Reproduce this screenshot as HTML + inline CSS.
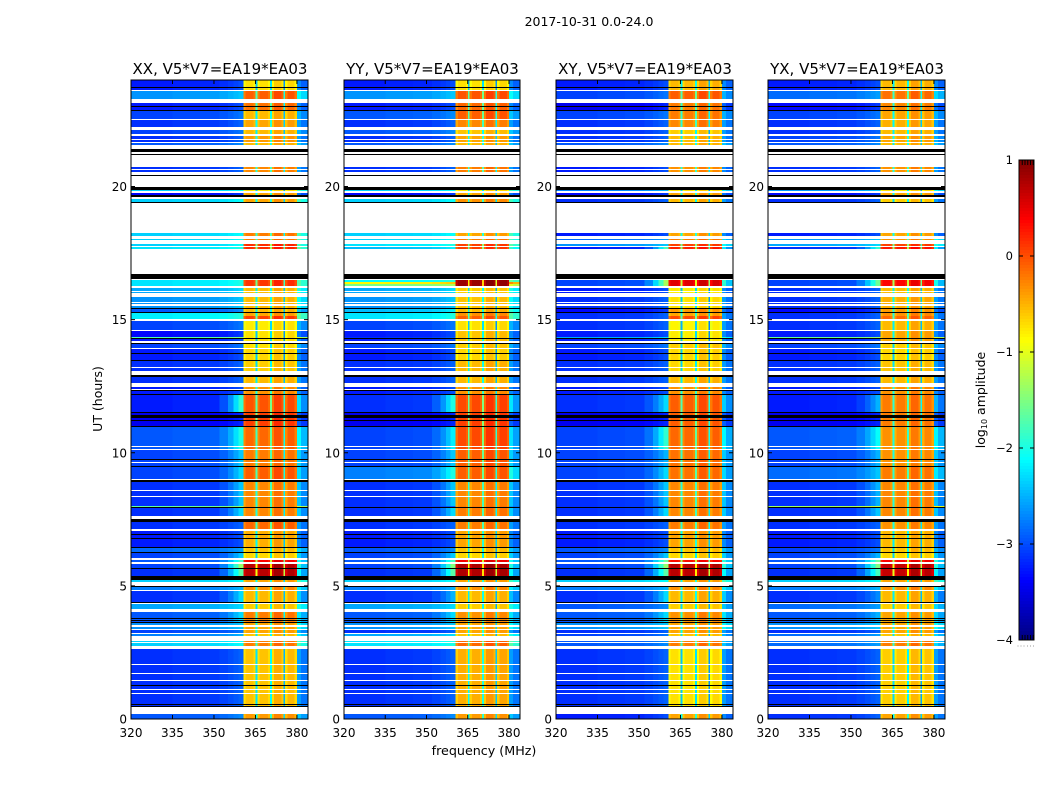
<!DOCTYPE html>
<html lang="en">
<head>
<meta charset="utf-8">
<title>2017-10-31 0.0-24.0</title>
<style>
html,body{margin:0;padding:0;background:#fff;}
svg{display:block;}
text{font-family:"DejaVu Sans","Liberation Sans",sans-serif;fill:#000;}
</style>
</head>
<body>
<svg id="figure" xmlns="http://www.w3.org/2000/svg" width="1050" height="800" viewBox="0 0 1050 800">
<rect x="0" y="0" width="1050" height="800" fill="#fff"/>
<text x="589" y="26" font-size="12.5" text-anchor="middle">2017-10-31 0.0-24.0</text>
<text x="484" y="755" font-size="12.7" text-anchor="middle">frequency (MHz)</text>
<text x="0" y="0" font-size="12.5" text-anchor="middle" transform="translate(102 399) rotate(-90)">UT (hours)</text>
<text x="0" y="0" font-size="12.5" text-anchor="middle" transform="translate(985 400) rotate(-90)">log<tspan font-size="8" dy="2">10</tspan><tspan dy="-2"> amplitude</tspan></text>
</svg>
<script>
const _ = null;

/* ---- axes ---- */
const freqTicks = [320, 335, 350, 365, 380];
const hourTicks = [0, 5, 10, 15, 20];
const colorbarTicks = [1, 0, -1, -2, -3, -4];
const panelTitles = ["XX, V5*V7=EA19*EA03", "YY, V5*V7=EA19*EA03", "XY, V5*V7=EA19*EA03", "YX, V5*V7=EA19*EA03"];

/* ---- frequency channels (MHz) and their response ---- */
const freqEdges = [320,335,345,352,355,357,358.8,360.6,361.4,364.3,365.1,365.7,366.5,369.5,370.25,370.9,371.7,374.4,375.1,375.7,376.5,379.2,380,381.5,384];
const bandGain  = [_,_,_,_,_,_,_,-0.2,-0.03,-0.15,-1.7,-0.2,-0.03,-0.15,-1.55,-0.18,0.08,-0.08,-1.95,-0.18,0.02,-0.15,_,_];
const backGain  = [-0.15,-0.12,-0.1,-0.05,0,0.05,0.1,_,_,_,_,_,_,_,_,_,_,_,_,_,_,_,0.4,0.2];
const skirtWeight = [0,0,0,0.15,0.4,0.7,1,_,_,_,_,_,_,_,_,_,_,_,_,_,_,_,0.4,0.2];

/* ---- time blocks: upper edge in 2.25-minute time bins, descending ---- */
const blockTopBin = [
639,628,616,608,599,589,583,576,552,532,
529,526,520,486,480,475,472,439,437,435,
431,422,410,406,403,398,388,382,381,375,
370,358,348,332,324,306,292,269,252,237,
213,212,197,188,171,166,159,155,150,139,
132,128,115,107,96,89,85,78,70,5];

/* ---- log10 amplitude outside the receiver band ---- */
const xxBackground = [
-3.1,-2.5,-3.1,-2.9,-3,-2.9,-3,-2.8,-3,-3.4,
-2.2,-3.2,-2.2,-2.2,-2.2,-2.2,-2.1,-2.1,-2.1,-2.1,
-2.4,-2.5,-2.8,-2.05,-2.05,-2.9,-3.2,-1.6,-3.1,-2.9,
-3.1,-3,-3,-3.1,-3.1,-3.3,-2.8,-2.9,-2.9,-3,
-1.5,-3,-3,-3.1,-2.7,-2.9,-2.8,-2.9,-3,-2.2,
-2.6,-3,-2.4,-2.8,-2.5,-2.9,-2.6,-2.2,-3,-2.8];
const yyBackground = [
-3.1,-2.5,-3.1,-2.8,-3,-2.8,-3,-2.8,-3,-3.4,
-2.2,-3.2,-2.2,-2.2,-2.2,-2.1,-2.3,-2,-0.7,-1.4,
-2.4,-2.5,-2.3,-2.1,-2.1,-2.9,-3.1,-3,-3.1,-2.9,
-3.1,-3,-3,-3.1,-3,-3.3,-2.9,-2.9,-2.6,-3,
-3,-3,-3,-3.1,-2.8,-2.9,-2.8,-2.9,-3,-2.2,
-2.6,-3,-2.4,-2.8,-2.5,-3,-2.4,-2.1,-3,-2.8];
const xyBackground = [
-3.1,-2.9,-3.3,-2.9,-3,-3,-3,-2.8,-3.1,-3.4,
-2.6,-3.2,-3,-3.1,-2.7,-2.5,-3.1,-2.9,-2.9,-2.9,
-3.1,-3,-3.2,-3,-3,-3,-3.1,-2.4,-3.1,-2.9,
-3.1,-3,-3,-3.1,-3,-3.3,-2.9,-2.9,-2.9,-3,
-3,-3,-3,-3.1,-2.8,-2.9,-2.8,-2.9,-3,-2.2,
-2.6,-3,-2.8,-2.8,-2.5,-3,-2.9,-2.8,-3,-3.1];
const yxBackground = [
-3.1,-2.7,-3.2,-2.9,-3,-3,-2.9,-2.8,-3,-3.4,
-2.5,-3.2,-3,-3.1,-2.5,-2.4,-3,-2.9,-2.9,-2.9,
-3,-3,-3.2,-3,-3,-3,-3.1,-1.5,-3.1,-2.9,
-3.1,-3,-3,-3.1,-3.1,-3.3,-2.8,-2.9,-2.7,-3,
-1.2,-3,-3,-3.1,-2.9,-2.9,-2.8,-2.9,-3,-2.2,
-2.6,-3,-2.7,-2.8,-2.5,-3,-2.7,-2.7,-3,-3];

/* ---- log10 amplitude inside the receiver band ---- */
const xxPeak = [
-0.7,-0.05,-0.15,-0.5,-0.4,-0.5,-0.35,-0.5,-0.25,-0.3,
-0.7,-0.4,-0.4,-0.2,-0.2,0.2,0.2,0.15,0.15,0.15,
-0.5,-0.5,-0.5,-0.4,0.1,-0.75,-0.7,-0.7,-0.7,-0.7,
-0.65,-0.6,-0.5,-0.3,0,0.1,-0.1,-0.2,-0.05,-0.25,
-0.25,-0.25,-0.1,-0.45,-0.55,-0.65,0.4,0.75,0.75,-0.4,
-0.3,-0.5,-0.6,-0.2,-0.4,-0.4,-0.55,-0.2,-0.55,-0.35];
const yyPeak = [
-0.7,0,-0.1,-0.05,-0.25,-0.55,-0.4,-0.5,-0.2,-0.3,
-0.7,-0.4,-0.3,-0.4,-0.2,0.1,0.1,0.9,0.9,0.9,
-0.6,-0.55,-0.5,-0.3,-0.05,-0.7,-0.55,-0.55,-0.55,-0.6,
-0.65,-0.5,-0.5,-0.3,0.05,0.1,0.05,-0.05,-0.05,-0.25,
-0.2,-0.2,-0.2,-0.4,-0.55,-0.65,0.45,0.8,0.8,-0.4,
-0.3,-0.5,-0.6,-0.3,-0.4,-0.4,-0.55,-0.1,-0.45,-0.35];
const xyPeak = [
-0.5,-0.05,-0.2,-0.2,-0.25,-0.6,-0.5,-0.5,-0.3,-0.3,
-0.7,-0.4,-0.5,-0.4,-0.2,0.1,0.25,0.55,0.55,0.55,
-0.75,-0.7,-0.35,-0.4,0.05,-0.8,-0.75,-0.75,-0.75,-0.6,
-0.65,-0.65,-0.5,-0.3,-0.05,-0.05,-0.1,-0.15,-0.15,-0.25,
-0.25,-0.25,-0.2,-0.4,-0.55,-0.65,0.35,0.75,0.75,-0.4,
-0.3,-0.5,-0.6,-0.3,-0.4,-0.4,-0.55,-0.2,-0.7,-0.4];
const yxPeak = [
-0.5,-0.15,-0.25,-0.4,-0.45,-0.5,-0.4,-0.5,-0.3,-0.3,
-0.7,-0.4,-0.6,-0.4,-0.3,0.1,0.3,0.4,0.4,0.4,
-0.5,-0.45,-0.35,-0.3,-0.1,-0.5,-0.4,-0.4,-0.4,-0.6,
-0.65,-0.55,-0.5,-0.3,-0.2,-0.2,-0.3,-0.3,-0.2,-0.25,
-0.25,-0.25,-0.3,-0.5,-0.55,-0.65,0.4,0.7,0.7,-0.4,
-0.3,-0.5,-0.6,-0.4,-0.4,-0.4,-0.55,-0.2,-0.6,-0.4];

/* ---- log10 amplitude of the skirt just below the band, where present ---- */
const xxSkirt = [
_,_,_,_,_,_,_,_,_,_,
_,_,_,_,_,_,_,_,_,_,
_,_,_,_,_,_,_,_,_,_,
_,_,_,_,-2,_,-2.1,-2.5,-2.4,-2.5,
_,-2.4,_,_,_,-2.5,-1.9,-1.5,-1.8,_,
_,-2.4,_,-2.4,_,_,_,_,_,_];
const yySkirt = [
_,_,_,_,_,_,_,_,_,_,
_,_,_,_,_,_,_,_,_,_,
_,_,_,_,_,_,_,_,_,_,
_,_,_,_,-2.1,_,-2.3,-2.5,-2.1,-2.5,
_,-2.4,_,_,_,-2.5,-1.9,-1.6,-1.8,_,
_,-2.6,_,-2.4,_,_,_,_,_,_];
const xySkirt = [
_,_,_,_,_,_,_,_,_,_,
_,_,_,_,_,_,-1.9,-1.4,-1.4,-1.4,
_,_,_,_,_,_,_,_,_,_,
_,_,_,_,-2.4,_,-2,-2.6,-2.4,-2.5,
_,-2.4,_,_,_,-2.5,-1.7,-1.5,-1.8,_,
_,-2.4,_,-2.4,_,_,_,_,_,_];
const yxSkirt = [
_,_,_,_,_,_,_,_,_,_,
_,_,_,_,_,_,-2,-1.7,-1.7,-1.7,
_,_,_,_,_,_,_,_,_,_,
_,_,_,_,-2.6,_,-2.2,-2.6,-2.5,-2.6,
_,-2.5,_,_,_,-2.6,-1.7,-1.6,-1.9,_,
_,-2.8,_,-2.6,_,_,_,_,_,_];

/* ---- missing data (white) and flagged zero-amplitude data (black), [startBin, endBin] ---- */
const gapBins = [[628,629],[616,620],[599,600],[589,592],[583,585],[579,580],[576,577],[552,574],[549,550],[532,547],[526,528],[520,522],[486,516],[480,483],[475,479],[472,473],[439,470],[431,433],[427,428],[422,426],[416,417],[413,415],[398,400],[388,389],[376,378],[370,371],[351,352],[344,348],[332,336],[329,330],[272,273],[269,270],[256,257],[239,240],[228,229],[222,223],[200,203],[188,190],[159,161],[155,157],[133,137],[128,129],[115,116],[107,110],[92,94],[89,90],[85,86],[78,83],[76,77],[70,73],[54,55],[45,46],[38,39],[29,30],[25,26],[5,12]];
const flaggedBins = [[631,632],[612,613],[608,609],[567,570],[564,565],[543,544],[529,532],[522,524],[516,517],[440,445],[410,411],[406,407],[380,381],[375,376],[365,366],[358,359],[342,344],[328,329],[324,325],[306,307],[301,304],[298,299],[292,293],[259,260],[252,253],[237,239],[211,212],[197,200],[184,185],[180,181],[171,172],[166,167],[150,151],[139,143],[132,133],[116,117],[100,101],[98,99],[96,97],[33,34],[14,15],[12,13]];

/* ---- layout and scales ---- */
const backgrounds = [xxBackground, yyBackground, xyBackground, yxBackground];
const peaks = [xxPeak, yyPeak, xyPeak, yxPeak];
const skirts = [xxSkirt, yySkirt, xySkirt, yxSkirt];
const panelLeft = [131, 344, 556, 768];
const panelWidth = [177, 176, 177, 177];
const plotTop = 80, plotBottom = 719;
const binHours = 24 / 639;
const freqMin = 320, freqMax = 384;
const NS = "http://www.w3.org/2000/svg";
const svg = document.getElementById("figure");

function xScale(f, p) { return panelLeft[p] + (f - freqMin) / (freqMax - freqMin) * panelWidth[p]; }
function yScale(h) { return plotBottom - h / 24 * (plotBottom - plotTop); }
function binY(b) { return yScale(b * binHours); }
function clip(v) { return Math.max(0, Math.min(1, v)); }
function jet(level) {
  const t = clip((level + 4) / 5);
  const r = clip(Math.min(4 * t - 1.5, -4 * t + 4.5));
  const g = clip(Math.min(4 * t - 0.5, -4 * t + 3.5));
  const b = clip(Math.min(4 * t + 0.5, -4 * t + 2.5));
  return "rgb(" + Math.round(r * 255) + "," + Math.round(g * 255) + "," + Math.round(b * 255) + ")";
}
function make(tag, parent) {
  const el = document.createElementNS(NS, tag);
  parent.appendChild(el);
  return el;
}
function setBox(el, x, y, w, h, fill) {
  el.setAttribute("x", x);
  el.setAttribute("y", y);
  el.setAttribute("width", w);
  el.setAttribute("height", h);
  el.setAttribute("fill", fill);
  el.setAttribute("shape-rendering", "crispEdges");
}
function setLine(el, x1, y1, x2, y2) {
  el.setAttribute("x1", x1);
  el.setAttribute("y1", y1);
  el.setAttribute("x2", x2);
  el.setAttribute("y2", y2);
  el.setAttribute("stroke", "#000");
  el.setAttribute("stroke-width", "1");
}
function setText(el, x, y, size, anchor, str) {
  el.setAttribute("x", x);
  el.setAttribute("y", y);
  el.setAttribute("font-size", size);
  el.setAttribute("text-anchor", anchor);
  el.textContent = str;
}

/* ---- panels ---- */
panelTitles.forEach(function (title, p) {
  const left = panelLeft[p], width = panelWidth[p];
  const group = make("g", svg);
  
  

  const heat = make("g", group);
  
  

  blockTopBin.forEach(function (topBin, i) {
    const bottomBin = i + 1 < blockTopBin.length ? blockTopBin[i + 1] : 0;
    const bg = backgrounds[p][i], pk = peaks[p][i], sk = skirts[p][i];
    for (let c = 0; c < freqEdges.length - 1; c++) {
      let level;
      if (bandGain[c] !== _) {
        level = pk + bandGain[c];
      } else {
        level = bg + backGain[c];
        if (sk !== _) level += skirtWeight[c] * (sk - bg);
      }
      const x0 = xScale(freqEdges[c], p), x1 = xScale(freqEdges[c + 1], p);
      const cell = make("rect", heat);
      
      
      setBox(cell, x0, binY(topBin), x1 - x0, binY(bottomBin) - binY(topBin), jet(level));
    }
  });
  gapBins.forEach(function (g) {
    const gap = make("rect", heat);
    
    
    setBox(gap, left, binY(g[1]), width, binY(g[0]) - binY(g[1]), "#fff");
  });
  flaggedBins.forEach(function (g) {
    const bad = make("rect", heat);
    
    
    setBox(bad, left, binY(g[1]), width, binY(g[0]) - binY(g[1]), "#000");
  });

  const frame = make("rect", group);
  
  
  frame.setAttribute("x", left);
  frame.setAttribute("y", plotTop);
  frame.setAttribute("width", width);
  frame.setAttribute("height", plotBottom - plotTop);
  frame.setAttribute("fill", "none");
  frame.setAttribute("stroke", "#000");
  frame.setAttribute("stroke-width", "1");

  const heading = make("text", group);
  
  
  setText(heading, left + width / 2 + 0.5, 74, 15, "middle", title);

  freqTicks.forEach(function (f) {
    const x = xScale(f, p);
    const tb = make("line", group);
    
    
    setLine(tb, x, plotBottom, x, plotBottom - 4);
    const tt = make("line", group);
    
    
    setLine(tt, x, plotTop, x, plotTop + 4);
    const lab = make("text", group);
    
    
    setText(lab, x, 737, 12, "middle", String(f));
  });
  hourTicks.forEach(function (h) {
    const y = yScale(h);
    const tl = make("line", group);
    
    
    setLine(tl, left, y, left + 4, y);
    const tr = make("line", group);
    
    
    setLine(tr, left + width, y, left + width - 4, y);
    const lab = make("text", group);
    
    
    setText(lab, left - 4, y + 4.5, 12, "end", String(h));
  });
});

/* ---- colorbar ---- */
const cbarLeft = 1019, cbarWidth = 15, cbarTop = 160, cbarBottom = 640;
function cbarY(v) { return cbarBottom - (v + 4) / 5 * (cbarBottom - cbarTop); }
const cbar = make("g", svg);


for (let py = cbarTop; py < cbarBottom; py += 3) {
  const swatch = make("rect", cbar);
  
  
  const level = -4 + (cbarBottom - py - 1.5) / (cbarBottom - cbarTop) * 5;
  setBox(swatch, cbarLeft, py, cbarWidth, 3, jet(level));
}
const cbarFrame = make("rect", cbar);


cbarFrame.setAttribute("x", cbarLeft);
cbarFrame.setAttribute("y", cbarTop);
cbarFrame.setAttribute("width", cbarWidth);
cbarFrame.setAttribute("height", cbarBottom - cbarTop);
cbarFrame.setAttribute("fill", "none");
cbarFrame.setAttribute("stroke", "#000");
cbarFrame.setAttribute("stroke-width", "1");
colorbarTicks.forEach(function (v) {
  const y = cbarY(v);
  const a = make("line", cbar);
  
  
  setLine(a, cbarLeft, y, cbarLeft + 4, y);
  const b = make("line", cbar);
  
  
  setLine(b, cbarLeft + cbarWidth, y, cbarLeft + cbarWidth - 4, y);
  const lab = make("text", cbar);
  
  
  setText(lab, 1013, y + 4, 11.5, "end", v < 0 ? "\u2212" + Math.abs(v) : String(v));
});
for (let k = 1; k <= 5; k++) {
  const x = cbarLeft + k * 2.75 + 0.5;
  const top = make("line", cbar);
  
  
  setLine(top, x, cbarTop, x, cbarTop + 5);
  const bot = make("line", cbar);
  
  
  setLine(bot, x, cbarBottom, x, cbarBottom - 5);
}
for (let k = 0; k < 6; k++) {
  const dot = make("rect", cbar);
  
  
  setBox(dot, 1017.5 + k * 3.1, 645.5, 1, 1, "#999");
}
</script>
</body>
</html>
